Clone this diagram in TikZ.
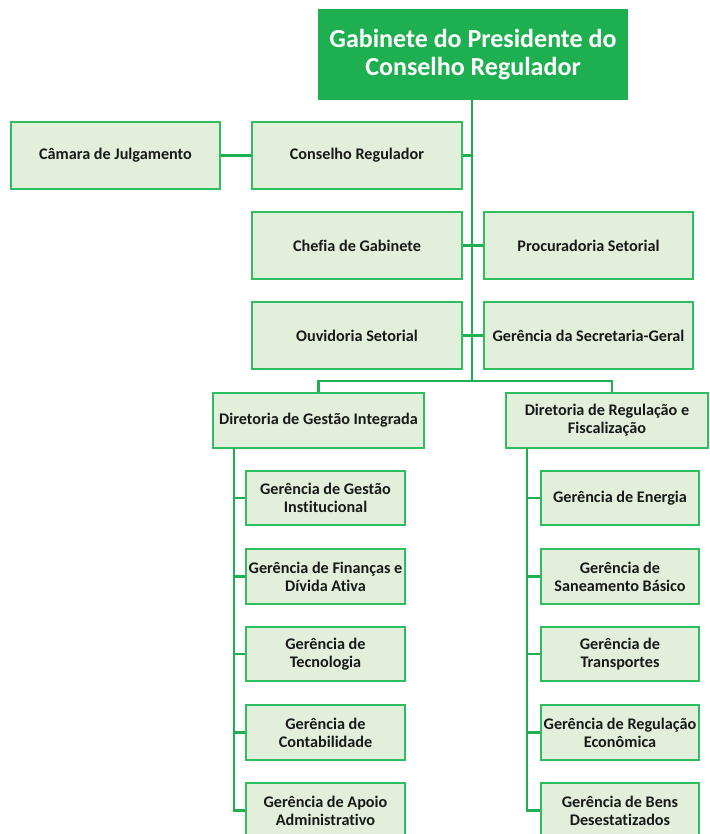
\documentclass[tikz,border=0pt]{standalone}
\usepackage{fontspec}
\setmainfont{Carlito}[Ligatures={NoCommon,NoRare}]
\definecolor{dg}{RGB}{30,176,80}
\definecolor{bxf}{RGB}{226,239,218}
\definecolor{bd}{RGB}{46,190,96}
\definecolor{tx}{RGB}{25,25,25}
\begin{document}
\begin{tikzpicture}[x=1pt,y=-1pt,
  box/.style 2 args={draw=bd,line width=2pt,fill=bxf,text=tx,align=center,
    inner sep=1pt,minimum width=#1,minimum height=#2,
    font=\bfseries\fontsize{16.2}{18}\selectfont},
  head/.style={draw=dg,line width=2pt,fill=dg,text=white,align=center,
    minimum width=308,minimum height=89,inner sep=1pt,
    font=\bfseries\fontsize{26}{27.5}\selectfont},
  link/.style={draw=dg,line width=2.2pt}]
\useasboundingbox (0,0) rectangle (709,834);
\clip (0,0) rectangle (709,834);
\fill[white] (0,0) rectangle (709,834);
% head
\node[head] (top) at (473,54.5) {Gabinete do Presidente do\\Conselho Regulador};
% upper rows
\node[box={209}{67}] (camara) at (115.5,155.5) {Câmara de Julgamento};
\node[box={210}{67}] (conselho) at (357,155.5) {Conselho Regulador};
\node[box={210}{67}] (chefia) at (357,245.5) {Chefia de Gabinete};
\node[box={209}{67}] (procur) at (588.5,245.5) {Procuradoria Setorial};
\node[box={210}{67}] (ouvid) at (357,335.5) {Ouvidoria Setorial};
\node[box={209}{67}] (secret) at (588.5,335.5) {Gerência da Secretaria-Geral};
% directorates
\node[box={211}{55}] (dgi) at (318.5,420.5) {Diretoria de Gestão Integrada};
\node[box={202}{55}] (drf) at (607,420.5) {Diretoria de Regulação e\\Fiscalização};
% left children
\node[box={159}{54}] (l1) at (325.5,498) {Gerência de Gestão\\Institucional};
\node[box={159}{55}] (l2) at (325.5,576.5) {Gerência de Finanças e\\Dívida Ativa};
\node[box={159}{54}] (l3) at (325.5,654) {Gerência de\\Tecnologia};
\node[box={159}{55}] (l4) at (325.5,732.5) {Gerência de\\Contabilidade};
\node[box={159}{55}] (l5) at (325.5,810.5) {Gerência de Apoio\\Administrativo};
% right children
\node[box={158}{54}] (r1) at (620,498) {Gerência de Energia};
\node[box={158}{55}] (r2) at (620,576.5) {Gerência de\\Saneamento Básico};
\node[box={158}{54}] (r3) at (620,654) {Gerência de\\Transportes};
\node[box={158}{55}] (r4) at (620,732.5) {Gerência de Regulação\\Econômica};
\node[box={158}{55}] (r5) at (620,810.5) {Gerência de Bens\\Desestatizados};
% connectors
\coordinate (j) at (472,381);
\coordinate (tr) at (472,99);
\coordinate (dr) at (612,448);
\coordinate (lb) at (234,448);
\coordinate (rb) at (527,448);
\draw[link] (tr) -- (j);
\draw[link] (camara.east) -- (conselho.west);
\draw[link] (conselho.east) -- (conselho.east -| j);
\draw[link] (chefia.east) -- (procur.west);
\draw[link] (ouvid.east) -- (secret.west);
\draw[link] (dgi.north) |- (j) -| (dr |- drf.north);
\draw[link] (lb) |- (l5.west);
\foreach \n in {l1,l2,l3,l4} \draw[link] (\n.west) -- (\n.west -| lb);
\draw[link] (rb) |- (r5.west);
\foreach \n in {r1,r2,r3,r4} \draw[link] (\n.west) -- (\n.west -| rb);
\end{tikzpicture}
\end{document}
